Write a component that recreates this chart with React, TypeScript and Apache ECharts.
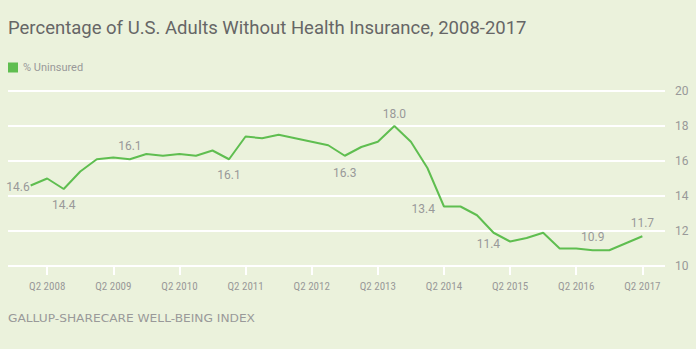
import React, { useEffect, useRef } from "react";
import * as echarts from "echarts";

const quarters = [
  "Q1 2008", "Q2 2008", "Q3 2008", "Q4 2008",
  "Q1 2009", "Q2 2009", "Q3 2009", "Q4 2009",
  "Q1 2010", "Q2 2010", "Q3 2010", "Q4 2010",
  "Q1 2011", "Q2 2011", "Q3 2011", "Q4 2011",
  "Q1 2012", "Q2 2012", "Q3 2012", "Q4 2012",
  "Q1 2013", "Q2 2013", "Q3 2013", "Q4 2013",
  "Q1 2014", "Q2 2014", "Q3 2014", "Q4 2014",
  "Q1 2015", "Q2 2015", "Q3 2015", "Q4 2015",
  "Q1 2016", "Q2 2016", "Q3 2016", "Q4 2016",
  "Q1 2017", "Q2 2017",
];

const uninsured = [
  14.6, 15.0, 14.4, 15.4,
  16.1, 16.2, 16.1, 16.4,
  16.3, 16.4, 16.3, 16.6,
  16.1, 17.4, 17.3, 17.5,
  17.3, 17.1, 16.9, 16.3,
  16.8, 17.1, 18.0, 17.1,
  15.6, 13.4, 13.4, 12.9,
  11.9, 11.4, 11.6, 11.9,
  11.0, 11.0, 10.9, 10.9,
  11.3, 11.7,
];

const yTicks = [10, 12, 14, 16, 18, 20];

// which points carry a value label, and where
const labelled: Record<number, { position: string; distance: number; offset?: number[] }> = {
  0: { position: "left", distance: 1, offset: [0, 1] },
  2: { position: "bottom", distance: 10 },
  6: { position: "top", distance: 7 },
  12: { position: "bottom", distance: 10 },
  19: { position: "bottom", distance: 11 },
  22: { position: "top", distance: 6 },
  25: { position: "left", distance: 9, offset: [0, 2] },
  29: { position: "left", distance: 10, offset: [0, 2] },
  34: { position: "top", distance: 7 },
  37: { position: "top", distance: 7 },
};

const BG = "#ebf2dc";
const GREEN = "#5fbe50";

export default function App() {
  const ref = useRef<HTMLDivElement>(null);
  useEffect(() => {
    if (!ref.current) return;
    const chart = echarts.init(ref.current, null, { renderer: "svg" });
    const data = uninsured.map((v, i) => {
      const l = labelled[i];
      const item: any = { value: [i, v] };
      if (l) {
        item.label = {
          show: true,
          position: l.position,
          distance: l.distance,
          offset: l.offset || [0, 0],
          formatter: () => v.toFixed(1),
          color: "#999",
          fontSize: 12,
          fontFamily: "Roboto",
        };
      }
      return item;
    });
    const tickIdx = quarters
      .map((q, i) => (q.startsWith("Q2") ? i : -1))
      .filter((i) => i >= 0);
    chart.setOption({
      animation: false,
      backgroundColor: BG,
      title: {
        text: "Percentage of U.S. Adults Without Health Insurance, 2008-2017",
        left: 3,
        top: 13,
        textStyle: {
          fontFamily: "Roboto",
          fontSize: 18.5,
          fontWeight: "normal",
          color: "#666",
        },
      },
      legend: {
        left: 3,
        top: 57,
        icon: "rect",
        itemWidth: 10,
        itemHeight: 10,
        itemGap: 5,
        textStyle: { color: "#999", fontSize: 11, fontFamily: "Roboto" },
        data: ["% Uninsured"],
      },
      graphic: [
        {
          type: "text",
          x: 8,
          y: 313,
          scaleX: 1.11,
          style: {
            text: "GALLUP-SHARECARE WELL-BEING INDEX",
            fill: "#999",
            fontSize: 11,
            fontFamily: "DejaVu Sans",
          },
        },
      ],
      grid: { left: 8, right: 31, top: 91, bottom: 83 },
      xAxis: {
        type: "value",
        min: -1.37,
        max: 38.37,
        axisLine: { show: false },
        splitLine: { show: false },
        axisTick: {
          show: true,
          customValues: tickIdx,
          length: 9,
          lineStyle: { color: "#fff", width: 2 },
        },
        axisLabel: {
          customValues: tickIdx,
          formatter: (v: number) => quarters[Math.round(v)] || "",
          color: "#999",
          fontSize: 11,
          fontFamily: "Liberation Sans Narrow, Roboto Condensed, Roboto",
          margin: 15,
        },
      },
      yAxis: {
        type: "value",
        position: "right",
        min: yTicks[0],
        max: yTicks[yTicks.length - 1],
        interval: 2,
        axisLine: { show: false },
        axisTick: { show: false },
        splitLine: { lineStyle: { color: "#fff", width: 2 } },
        axisLabel: { color: "#999", fontSize: 12, fontFamily: "Roboto", margin: 10 },
      },
      series: [
        {
          name: "% Uninsured",
          type: "line",
          data,
          symbol: "circle",
          symbolSize: 0,
          showSymbol: true,
          color: GREEN,
          lineStyle: { color: GREEN, width: 2 },
        },
      ],
    });
    return () => chart.dispose();
  }, []);
  return <div ref={ref} style={{ width: 696, height: 349, position: "absolute", left: 0, top: 0 }} />;
}
